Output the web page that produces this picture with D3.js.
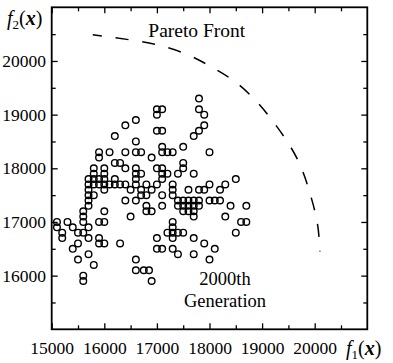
<!DOCTYPE html>
<html>
<head>
<meta charset="utf-8">
<script src="https://cdn.jsdelivr.net/npm/d3@7"></script>
<style>
  html, body { margin: 0; padding: 0; background: #fff; }
  svg { display: block; font-family: 'Liberation Serif', 'Times New Roman', serif; }
</style>
</head>
<body>
<svg id="chart" width="393" height="363"></svg>
<script>
// tick values
const xTicks = [15000, 16000, 17000, 18000, 19000, 20000];
const yTicks = [16000, 17000, 18000, 19000, 20000];
const xMinor = [15500, 16500, 17500, 18500, 19500, 20500];
const yMinor = [15500, 16500, 17500, 18500, 19500, 20500];

// dashed pareto front
const paretoF1 = [15780, 16580, 17090, 17600, 18070, 18490, 18880, 19210, 19510, 19750, 19920, 20050, 20100];
const paretoF2 = [20490, 20380, 20280, 20110, 19870, 19610, 19260, 18870, 18450, 18000, 17500, 16980, 16450];

// 2000th generation individuals [f1, f2]
const generation = [
	[17800, 19300],
	[17000, 19100], [17100, 19100], [17800, 19100],
	[17000, 19000], [17900, 19000],
	[16600, 18900],
	[16400, 18800], [17900, 18800],
	[17000, 18700], [17100, 18700], [17800, 18700],
	[16200, 18600], [17700, 18600],
	[16600, 18500],
	[17100, 18400], [17500, 18400],
	[15900, 18300], [16100, 18300], [16400, 18300], [16600, 18300], [16700, 18300], [17100, 18300], [17200, 18300], [17300, 18300], [18000, 18300],
	[15900, 18200], [16900, 18200],
	[16200, 18100], [16300, 18100], [17500, 18100],
	[15800, 18000], [16000, 18000], [16400, 18000], [16600, 18000], [17000, 18000], [17100, 18000], [17500, 18000],
	[15800, 17900], [16000, 17900], [16600, 17900], [16700, 17900], [17100, 17900], [17200, 17900], [17400, 17900], [17700, 17900],
	[15700, 17800], [15800, 17800], [15900, 17800], [16000, 17800], [16200, 17800], [16600, 17800], [17100, 17800], [18500, 17800],
	[15700, 17700], [15800, 17700], [15900, 17700], [16000, 17700], [16100, 17700], [16200, 17700], [16300, 17700], [16400, 17700],
	[16600, 17700], [16800, 17700], [17000, 17700], [17300, 17700], [18000, 17700], [18300, 17700],
	[15700, 17600], [16000, 17600], [16500, 17600], [16700, 17600], [16900, 17600], [17300, 17600], [17600, 17600], [17800, 17600], [17900, 17600], [18200, 17600],
	[15700, 17500], [15800, 17500], [16700, 17500], [16800, 17500], [17100, 17500], [17300, 17500],
	[15700, 17400], [16400, 17400], [16600, 17400], [17400, 17400], [17500, 17400], [17600, 17400], [17700, 17400], [17800, 17400], [18000, 17400], [18100, 17400], [18200, 17400],
	[15700, 17300], [16800, 17300], [17100, 17300], [17400, 17300], [17500, 17300], [17600, 17300], [17700, 17300], [17800, 17300], [18400, 17300], [18700, 17300],
	[15600, 17200], [16000, 17200], [16800, 17200], [16900, 17200], [17500, 17200], [17600, 17200], [17700, 17200],
	[15600, 17100], [16500, 17100], [17700, 17100], [18300, 17100],
	[15100, 17000], [15300, 17000], [15600, 17000], [15900, 17000], [16000, 17000], [17300, 17000], [18600, 17000], [18700, 17000],
	[15100, 16900], [15400, 16900], [15700, 16900], [17300, 16900],
	[15200, 16800], [15500, 16800], [15600, 16800], [17200, 16800], [17300, 16800], [17400, 16800], [17500, 16800], [18500, 16800],
	[15200, 16700], [15700, 16700], [15900, 16700], [17000, 16700], [17300, 16700], [17700, 16700],
	[15500, 16600], [15900, 16600], [16000, 16600], [16300, 16600], [17900, 16600],
	[15400, 16500], [17000, 16500], [17100, 16500], [17300, 16500], [18100, 16500],
	[15700, 16400], [17400, 16400], [17700, 16400],
	[15500, 16300], [16600, 16300], [18000, 16300],
	[15800, 16200],
	[16600, 16100], [16750, 16100], [16850, 16100],
	[15600, 16000],
	[15600, 15900], [16900, 15900]
];

let svg = d3.select('#chart'),
	margin = {top: 7.3, right: 25.7, bottom: 33.7, left: 51.7},
	width = +svg.attr('width') - margin.left - margin.right,
	height = +svg.attr('height') - margin.top - margin.bottom,
	g = svg.append('g').attr('transform', `translate(${margin.left}, ${margin.top})`);

let x = d3.scaleLinear().domain([15000, 21000]).range([0, width]),
	y = d3.scaleLinear().domain([15000, 21000]).range([height, 0]);

// inward ticks on all four sides
function ticks(axis, vals, size, labels) {
	return axis.tickValues(vals)
		.tickSizeInner(-size)
		.tickSizeOuter(0)
		.tickFormat(labels ? d3.format('d') : '');
}

let axes = [
	[d3.axisBottom(x), xTicks, 6, true, `translate(0, ${height})`, 11.8],
	[d3.axisBottom(x), xMinor, 4, false, `translate(0, ${height})`, 0],
	[d3.axisTop(x), xTicks, 6, false, 'translate(0, 0)', 0],
	[d3.axisTop(x), xMinor, 4, false, 'translate(0, 0)', 0],
	[d3.axisLeft(y), yTicks, 6, true, 'translate(0, 0)', 5.7],
	[d3.axisLeft(y), yMinor, 4, false, 'translate(0, 0)', 0],
	[d3.axisRight(y), yTicks, 6, false, `translate(${width}, 0)`, 0],
	[d3.axisRight(y), yMinor, 4, false, `translate(${width}, 0)`, 0]
];

axes.forEach(([axis, vals, size, labels, tr, pad]) => {
	let a = g.append('g')
		.attr('transform', tr)
		.call(ticks(axis, vals, size, labels).tickPadding(pad));
	a.attr('font-family', null);
	a.select('.domain').remove();
	a.selectAll('line').attr('stroke', '#000').attr('stroke-width', 1.3);
	a.selectAll('text')
		.attr('fill', '#000')
		.attr('font-size', 17.5)
		.style('font-family', "'Liberation Serif', 'Times New Roman', serif");
});

// frame
g.append('rect')
	.attr('x', 0)
	.attr('y', 0)
	.attr('width', width)
	.attr('height', height)
	.attr('fill', 'none')
	.attr('stroke', '#000')
	.attr('stroke-width', 1.8);

// pareto front
let front = paretoF1.map((f, i) => ({x: f, y: paretoF2[i]}));
let line = d3.line()
	.x(d => x(d.x))
	.y(d => y(d.y))
	.curve(d3.curveNatural);

g.append('path')
	.datum(front)
	.attr('fill', 'none')
	.attr('stroke', '#000')
	.attr('stroke-width', 1.5)
	.attr('stroke-dasharray', '13,14')
	.attr('stroke-dashoffset', 4)
	.attr('d', line);

// individuals
g.selectAll('circle.pt')
	.data(generation)
	.enter()
	.append('circle')
	.attr('class', 'pt')
	.attr('cx', d => x(d[0]))
	.attr('cy', d => y(d[1]))
	.attr('r', 3.3)
	.attr('fill', 'none')
	.attr('stroke', '#000')
	.attr('stroke-width', 1.4);

// annotations
svg.append('text')
	.attr('x', 148.3)
	.attr('y', 37)
	.attr('font-size', 19.5)
	.text('Pareto Front');

svg.append('text')
	.attr('x', 225)
	.attr('y', 285)
	.attr('text-anchor', 'middle')
	.attr('font-size', 18.5)
	.text('2000th');

svg.append('text')
	.attr('x', 225)
	.attr('y', 306.5)
	.attr('text-anchor', 'middle')
	.attr('font-size', 18.5)
	.text('Generation');

// axis titles f2(x), f1(x)
function axisTitle(px, py, sub) {
	let t = svg.append('text')
		.attr('x', px)
		.attr('y', py)
		.attr('font-size', 20);
	t.append('tspan').attr('font-style', 'italic').text('f');
	t.append('tspan').attr('font-size', 13).attr('dy', 4).text(sub);
	t.append('tspan').attr('dy', -4).text('(');
	t.append('tspan').attr('font-style', 'italic').attr('font-weight', 'bold').text('x');
	t.append('tspan').text(')');
}
axisTitle(7, 25, '2');
axisTitle(346, 355, '1');
</script>
</body>
</html>
